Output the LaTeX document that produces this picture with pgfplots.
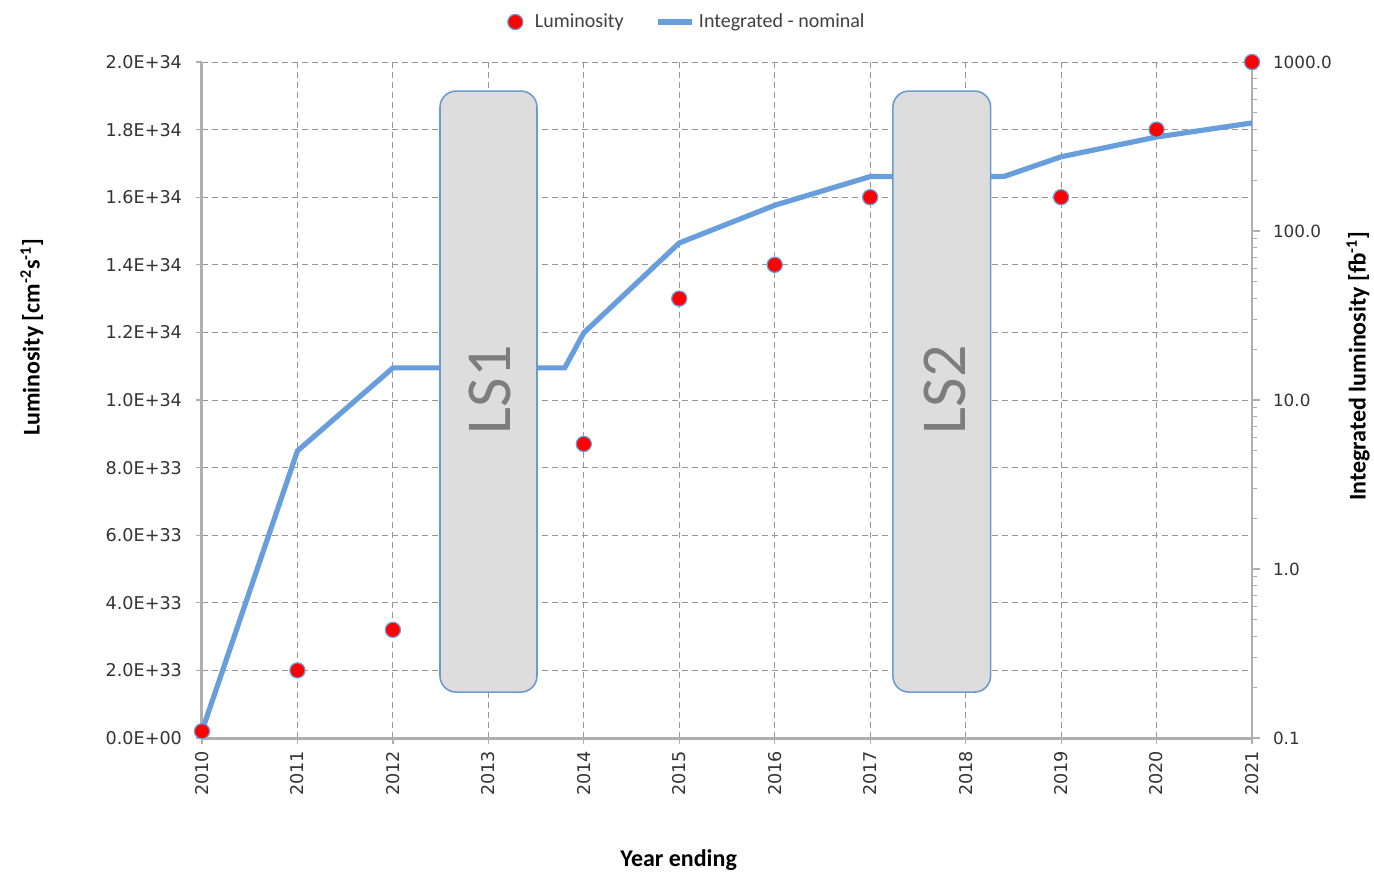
\documentclass[border=0pt]{standalone}
\usepackage{fontspec}
\setmainfont{Carlito}
\newfontfamily\dejavu{DejaVu Sans}
\usepackage{pgfplots}
\pgfplotsset{compat=1.18}
\definecolor{lineblue}{RGB}{104,158,219}
\definecolor{boxedge}{RGB}{108,155,210}
\definecolor{boxfill}{RGB}{221,221,221}
\definecolor{gridgray}{RGB}{150,150,150}
\definecolor{axisgray}{RGB}{175,175,175}
\definecolor{txtgray}{RGB}{125,125,125}
\begin{document}
\begin{tikzpicture}
\useasboundingbox (-101pt,-71pt) rectangle (586pt,369pt);
% axis 1: linear left axis, grid, labels
\begin{axis}[
  at={(0,0)}, anchor=south west,
  width=525pt, height=338pt, scale only axis,
  xmin=2010, xmax=2021, ymin=0, ymax=2e34,
  axis x line*=bottom, axis y line*=left,
  scaled y ticks=false,
  clip=false,
  xtick={2010,2011,2012,2013,2014,2015,2016,2017,2018,2019,2020,2021},
  xticklabels={2010,2011,2012,2013,2014,2015,2016,2017,2018,2019,2020,2021},
  ytick={0,2e33,4e33,6e33,8e33,1e34,1.2e34,1.4e34,1.6e34,1.8e34,2e34},
  yticklabels={0.0E+00,2.0E+33,4.0E+33,6.0E+33,8.0E+33,1.0E+34,1.2E+34,1.4E+34,1.6E+34,1.8E+34,2.0E+34},
  grid=major,
  major grid style={gridgray, dash pattern=on 3pt off 2pt, line width=0.5pt},
  tick align=outside, major tick length=3pt,
  tick style={axisgray, line width=0.6pt},
  axis line style={axisgray, line width=1.5pt},
  xticklabel style={rotate=90, anchor=east, font=\dejavu\fontsize{8.8}{10}\selectfont, text=black!80},
  yticklabel style={font=\dejavu\fontsize{8.8}{10}\selectfont, text=black!80, xshift=-3.5pt},
  xlabel={Year ending},
  ylabel={Luminosity [cm\textsuperscript{-2}s\textsuperscript{-1}]},
  xlabel style={font=\bfseries\fontsize{12}{14}\selectfont, at={(axis description cs:0.454,-0.1805)}, anchor=center},
  ylabel style={font=\bfseries\fontsize{12}{14}\selectfont, at={(axis description cs:-0.162,0.593)}, anchor=center},
]
\addplot[draw=none, forget plot] coordinates {(2010,0)(2021,0)};
\end{axis}
% axis 2: log right axis with integrated luminosity and shutdown boxes
\begin{axis}[
  at={(0,0)}, anchor=south west,
  width=525pt, height=338pt, scale only axis,
  xmin=2010, xmax=2021, ymode=log, ymin=0.1, ymax=1000,
  axis x line=none, axis y line*=right,
  clip=false,
  ytick={0.1,1,10,100,1000},
  yticklabels={0.1,1.0,10.0,100.0,1000.0},
  tick align=outside, major tick length=4pt, minor tick length=2.5pt,
  tick style={axisgray, line width=0.6pt},
  axis line style={axisgray, line width=0.9pt},
  yticklabel style={font=\dejavu\fontsize{8.4}{10}\selectfont, text=black!80, xshift=3pt},
  ylabel={Integrated luminosity [fb\textsuperscript{-1}]},
  ylabel style={font=\bfseries\fontsize{12}{14}\selectfont, at={(axis description cs:1.101,0.55)}, anchor=center},
  legend style={at={(axis description cs:0.463,1)}, anchor=center, yshift=20pt, draw=none, fill=none,
    font=\fontsize{10}{12}\selectfont, text=black!75,
    /tikz/every even column/.append style={column sep=14pt}},
  legend columns=2, legend cell align=left,
]
\addlegendimage{only marks, mark=*, mark size=3.8pt, mark options={fill=red, draw=lineblue, line width=0.6pt}}
\addlegendentry{\hspace{4pt}Luminosity}
\addplot[lineblue, line width=2.6pt]
  coordinates {(2010,0.11)(2011,5)(2012,15.5)(2013.8,15.5)(2014,25)(2015,85)(2016,142)(2017,210)(2018.4,210)(2019,275)(2020,360)(2021,436)};
\addlegendentry{Integrated - nominal}
\draw[boxedge, fill=boxfill, rounded corners=8pt, line width=0.8pt]
  (rel axis cs:0.2267,0.068) rectangle (rel axis cs:0.319,0.957);
\draw[boxedge, fill=boxfill, rounded corners=8pt, line width=0.8pt]
  (rel axis cs:0.658,0.068) rectangle (rel axis cs:0.751,0.957);
\node[rotate=90, text=txtgray, font=\fontsize{32}{36}\selectfont] at (rel axis cs:0.274,0.515) {LS1};
\node[rotate=90, text=txtgray, font=\fontsize{32}{36}\selectfont] at (rel axis cs:0.7076,0.515) {LS2};
\end{axis}
% axis 3: linear, luminosity markers on top
\begin{axis}[
  at={(0,0)}, anchor=south west,
  width=525pt, height=338pt, scale only axis,
  xmin=2010, xmax=2021, ymin=0, ymax=2e34,
  hide axis, clip=false,
]
\addplot[only marks, mark=*, mark size=3.8pt, mark options={fill=red, draw=lineblue, line width=0.6pt}]
  coordinates {(2010,2e32)(2011,2e33)(2012,3.2e33)(2014,8.7e33)(2015,1.3e34)(2016,1.4e34)(2017,1.6e34)(2019,1.6e34)(2020,1.8e34)(2021,2e34)};
\end{axis}
\end{tikzpicture}
\end{document}
